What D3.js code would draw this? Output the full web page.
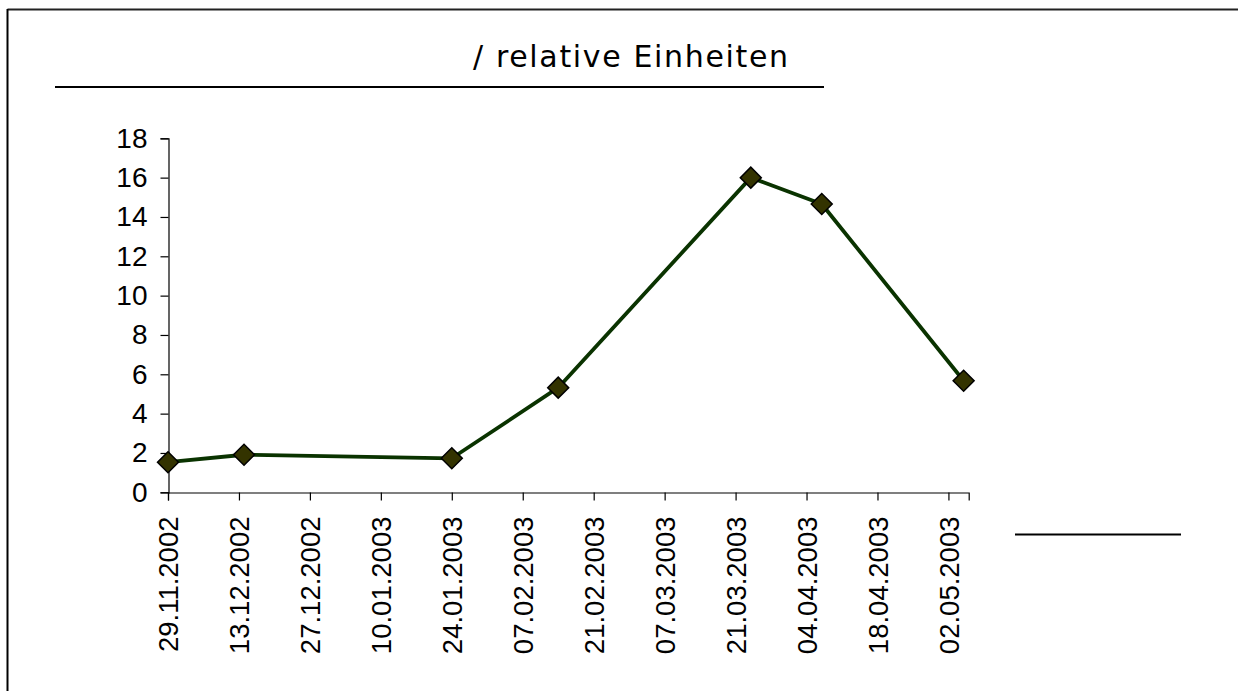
<!DOCTYPE html>
<html>
<head>
<meta charset="utf-8">
<script src="https://cdn.jsdelivr.net/npm/d3@7/dist/d3.min.js"></script>
<style>
  html, body { margin: 0; padding: 0; background: #fff; }
  svg { display: block; }
</style>
</head>
<body>
<svg id="chart" width="1238" height="691"></svg>
<script>
// ---- data ----
const dates = ["29.11.2002", "14.12.2002", "24.01.2003", "14.02.2003", "24.03.2003", "07.04.2003", "05.05.2003"];
const values = [1.53, 1.91, 1.73, 5.32, 16.0, 14.66, 5.67];
const tickLabels = ["29.11.2002", "13.12.2002", "27.12.2002", "10.01.2003", "24.01.2003", "07.02.2003",
                    "21.02.2003", "07.03.2003", "21.03.2003", "04.04.2003", "18.04.2003", "02.05.2003"];
const yTicks = [0, 2, 4, 6, 8, 10, 12, 14, 16, 18];
const xDomain = ["29.11.2002", "06.05.2003"];
const yDomain = [0, 18];
const titleText = "/ relative Einheiten";

// ---- helpers ----
const parse = d3.utcParse("%d.%m.%Y");
const fmt = d3.utcFormat("%d.%m.%Y");

const svg = d3.select("#chart");

// frame (partially cropped page frame)
svg.append("line").attr("x1", 7.5).attr("x2", 1238).attr("y1", 9.5).attr("y2", 9.5)
  .attr("stroke", "#222").attr("stroke-width", 2);
svg.append("line").attr("x1", 7.5).attr("x2", 7.5).attr("y1", 9).attr("y2", 691)
  .attr("stroke", "#000").attr("stroke-width", 2);

// title
svg.append("text")
  .attr("x", 473).attr("y", 67)
  .attr("font-family", "DejaVu Sans, Verdana, sans-serif")
  .attr("font-size", 30)
  .attr("fill", "#000")
  .attr("textLength", 315).attr("lengthAdjust", "spacing")
  .text(titleText);
svg.append("line").attr("x1", 55).attr("x2", 824).attr("y1", 87).attr("y2", 87)
  .attr("stroke", "#000").attr("stroke-width", 2);

// right decorative line
svg.append("line").attr("x1", 1015).attr("x2", 1181).attr("y1", 534.5).attr("y2", 534.5)
  .attr("stroke", "#000").attr("stroke-width", 2);

// scales
const x = d3.scaleUtc().domain(xDomain.map(parse)).range([168, 968.7]);
const y = d3.scaleLinear().domain(yDomain).range([492.3, 138.3]);

const fontAxis = "Liberation Sans, Arial, sans-serif";

// y axis
const gy = svg.append("g").attr("transform", "translate(168.5,0)")
  .call(d3.axisLeft(y).tickValues(yTicks).tickSize(8).tickPadding(13).tickFormat(d3.format("d")));
gy.select(".domain").attr("stroke", "#000").attr("stroke-width", 1.2);
gy.selectAll(".tick line").attr("stroke", "#000").attr("stroke-width", 1.2);
gy.selectAll(".tick text").attr("font-family", fontAxis).attr("font-size", 28).attr("fill", "#000");

// x axis
const gx = svg.append("g").attr("transform", "translate(0,492.5)")
  .call(d3.axisBottom(x).tickValues(tickLabels.map(parse)).tickSize(8).tickFormat(fmt));
gx.select(".domain").attr("stroke", "#000").attr("stroke-width", 1.2);
gx.selectAll(".tick line").attr("stroke", "#000").attr("stroke-width", 1.2);
gx.selectAll(".tick text")
  .attr("font-family", fontAxis).attr("font-size", 27.5).attr("fill", "#000")
  .attr("transform", "rotate(-90)")
  .attr("text-anchor", "end")
  .attr("x", -24).attr("y", 0).attr("dy", "0.36em");

// series
const pts = dates.map((d, i) => ({ date: parse(d), value: values[i] }));
const line = d3.line().x(d => x(d.date)).y(d => y(d.value));
svg.append("path").datum(pts)
  .attr("d", line)
  .attr("fill", "none")
  .attr("stroke", "#0a3300")
  .attr("stroke-width", 3.8)
  .attr("stroke-linejoin", "round");

const diamond = d3.symbol().type(d3.symbolSquare).size(220);
svg.append("g").selectAll("path").data(pts).join("path")
  .attr("d", diamond)
  .attr("transform", d => `translate(${x(d.date)},${y(d.value)}) rotate(45)`)
  .attr("fill", "#333300")
  .attr("stroke", "#000")
  .attr("stroke-width", 1.5);
</script>
</body>
</html>
